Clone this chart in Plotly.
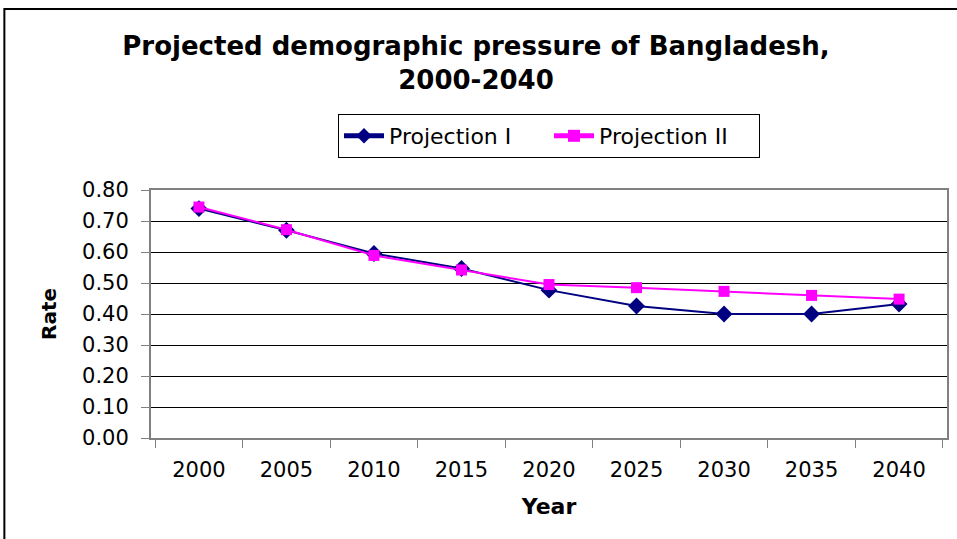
import plotly.graph_objects as go

years = ["2000", "2005", "2010", "2015", "2020", "2025", "2030", "2035", "2040"]
projection_1 = [0.740, 0.670, 0.595, 0.547, 0.477, 0.426, 0.400, 0.400, 0.432]
projection_2 = [0.745, 0.672, 0.589, 0.542, 0.495, 0.485, 0.473, 0.460, 0.448]
y_ticks = [0.0, 0.1, 0.2, 0.3, 0.4, 0.5, 0.6, 0.7, 0.8]

FONT = "DejaVu Sans, Arial, sans-serif"
W, H = 957, 539
ML, MR, MT, MB = 151, 8, 190, 101
PW, PH = W - ML - MR, H - MT - MB


def px_to_paper_x(px):
    return (px - ML) / PW


def px_to_paper_y(py):
    return (H - MB - py) / PH


fig = go.Figure()
fig.add_trace(go.Scatter(
    x=years, y=projection_1, name="Projection I", mode="lines+markers",
    line=dict(color="#000080", width=2),
    marker=dict(symbol="diamond", size=13, color="#000080"),
))
fig.add_trace(go.Scatter(
    x=years, y=projection_2, name="Projection II", mode="lines+markers",
    line=dict(color="#FF00FF", width=2),
    marker=dict(symbol="square", size=11, color="#FF00FF"),
))

# chart-area frame
fig.add_shape(type="rect", xref="paper", yref="paper",
              x0=px_to_paper_x(4), x1=px_to_paper_x(W + 20),
              y0=px_to_paper_y(H + 20), y1=px_to_paper_y(9),
              line=dict(color="black", width=2), layer="below")

fig.update_layout(
    width=W, height=H,
    margin=dict(l=ML, r=MR, t=MT, b=MB),
    paper_bgcolor="white", plot_bgcolor="white",
    font=dict(family=FONT, color="black", size=21),
    title=dict(
        text="<b>Projected demographic pressure of Bangladesh,<br>2000-2040</b>",
        x=476 / W, xanchor="center", y=1 - 55 / H, yanchor="top",
        font=dict(size=26, family=FONT),
    ),
    showlegend=True,
    legend=dict(
        orientation="h", x=px_to_paper_x(550), xanchor="center",
        y=px_to_paper_y(114), yanchor="top",
        bordercolor="black", borderwidth=1, bgcolor="white",
        font=dict(size=22, family=FONT),
        itemwidth=40, entrywidth=155, itemsizing="constant",
    ),
    xaxis=dict(
        type="category", tickson="boundaries", ticks="outside", ticklen=8,
        tickcolor="#808080", showline=True, linecolor="#808080", linewidth=2,
        mirror=True, showgrid=False, tickfont=dict(size=21),
        ticklabelstandoff=12,
        title=dict(text="<b>Year</b>", font=dict(size=22), standoff=17),
    ),
    yaxis=dict(
        range=[0, 0.8], tickvals=y_ticks, tickformat=".2f",
        ticks="outside", ticklen=8, tickcolor="#808080",
        showline=True, linecolor="#808080", linewidth=2, mirror=True,
        showgrid=True, gridcolor="black", gridwidth=1, zeroline=False,
        tickfont=dict(size=21), ticklabelstandoff=8,
        title=dict(text="<b>Rate</b>", font=dict(size=20), standoff=20),
    ),
)

fig.write_html("out.html")
